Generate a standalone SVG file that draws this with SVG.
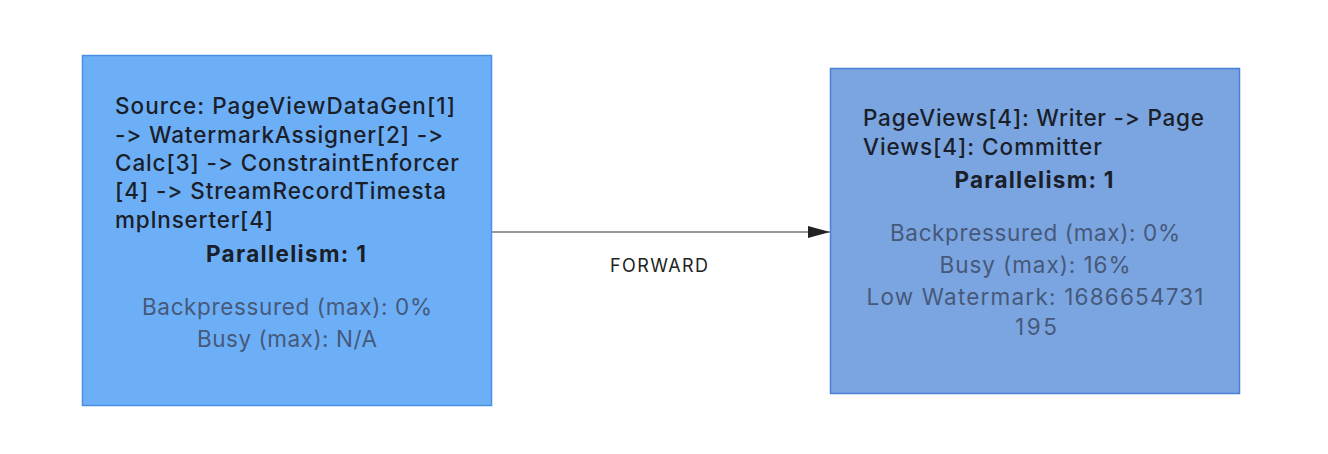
<svg xmlns="http://www.w3.org/2000/svg" width="1328" height="454" viewBox="0 0 1328 454">
<style>
text{font-family:Inter,"Liberation Sans",sans-serif;font-feature-settings:"calt" 0,"liga" 0;font-variant-ligatures:none}
.title{font-size:22.5px;font-weight:500;fill:#1a1f2a}
.par{font-size:22.5px;font-weight:700;fill:#1a1f2a;text-anchor:middle}
.met{font-size:22.5px;font-weight:400;fill:#46597a;text-anchor:middle}
.edge{font-size:18px;fill:#222;text-anchor:middle}
</style>
<defs>
<marker id="arr" markerWidth="22" markerHeight="12" refX="22" refY="6" orient="auto" markerUnits="userSpaceOnUse">
<path d="M0,0 L22,6 L0,12 z" fill="#222"/>
</marker>
</defs>
<rect width="1328" height="454" fill="#ffffff"/>
<g id="connectors">
<line x1="492" y1="232" x2="830" y2="232" stroke="#777" stroke-width="1.5" marker-end="url(#arr)"/>
<text class="edge" x="659" y="272" textLength="98">FORWARD</text>
</g>
<g id="node-source">
<rect x="82.5" y="55.5" width="409" height="350" fill="#6daff7" stroke="#4a90e2" stroke-width="1.5"/>
<text class="title" x="115" y="114" textLength="340">Source: PageViewDataGen[1]</text>
<text class="title" x="115" y="143" textLength="328">-&gt; WatermarkAssigner[2] -&gt;</text>
<text class="title" x="115" y="171" textLength="344">Calc[3] -&gt; ConstraintEnforcer</text>
<text class="title" x="115" y="199" textLength="331">[4] -&gt; StreamRecordTimesta</text>
<text class="title" x="115" y="227.5" textLength="158">mpInserter[4]</text>
<text class="par" x="286" y="262" textLength="160">Parallelism: 1</text>
<text class="met" x="287" y="315" textLength="290">Backpressured (max): 0%</text>
<text class="met" x="287" y="347" textLength="180">Busy (max): N/A</text>
</g>
<g id="node-sink">
<rect x="830.5" y="68.5" width="409" height="325" fill="#7ba5e0" stroke="#4a7fd6" stroke-width="1.5"/>
<text class="title" x="863" y="126" textLength="341">PageViews[4]: Writer -&gt; Page</text>
<text class="title" x="863" y="155" textLength="239">Views[4]: Committer</text>
<text class="par" x="1034" y="188" textLength="159">Parallelism: 1</text>
<text class="met" x="1035" y="241" textLength="290">Backpressured (max): 0%</text>
<text class="met" x="1035" y="273" textLength="191">Busy (max): 16%</text>
<text class="met" x="1035" y="305" textLength="337">Low Watermark: 1686654731</text>
<text class="met" x="1036" y="334.5" textLength="42">195</text>
</g>
</svg>
